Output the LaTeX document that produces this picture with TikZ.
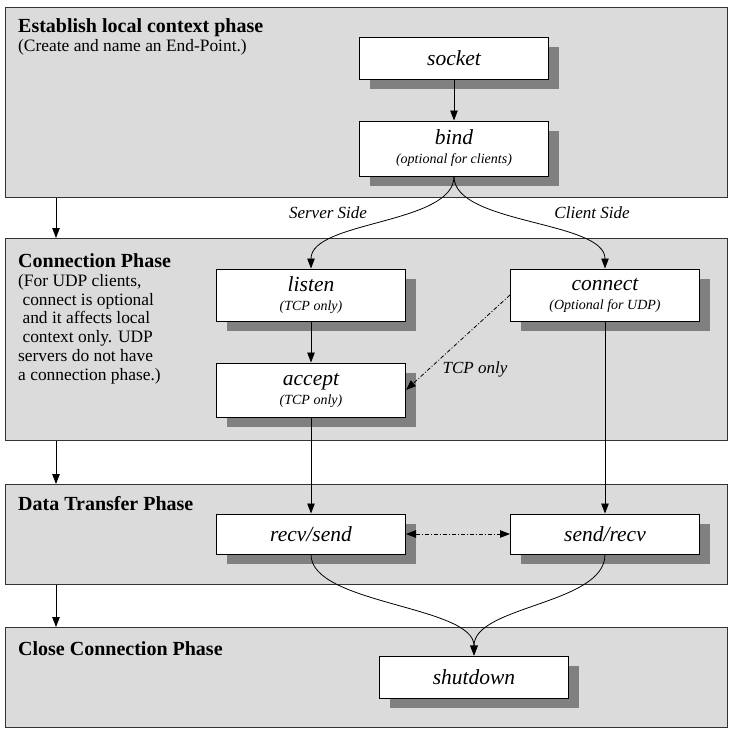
\documentclass[tikz,border=0pt]{standalone}
\usepackage{fontspec}
\setmainfont{Liberation Serif}
\usetikzlibrary{positioning, shadows, arrows.meta}
\newcommand{\boxfont}{\fontsize{21.5}{22}\selectfont\itshape}
\newcommand{\notefont}{\fontsize{14}{15}\selectfont\itshape}
\tikzset{
    phase/.style={
        draw = black!80, line width = 1.2pt, fill = black!14,
        minimum width = 722pt, anchor = north west, inner sep = 0pt
    },
    block/.style={
        draw, fill = white, line width = 1pt,
        minimum width = 189pt, minimum height = 42pt,
        inner sep = 0pt, align = center, font = \boxfont,
        drop shadow = {shadow xshift = 10pt, shadow yshift = -10pt,
                       fill = black!50, opacity = 1}
    },
    title/.style = {anchor = base west, inner sep = 0pt,
                    font = \fontsize{20}{22}\selectfont\bfseries},
    note/.style = {inner sep = 0pt, align = left,
                   font = \fontsize{17.4}{18.8}\selectfont},
    side/.style = {font = \fontsize{17}{19}\selectfont\itshape},
    line/.style = {->, line width = 0.8pt},
    dline/.style = {line, dash pattern = on 4pt off 2pt on 1pt off 2pt}
}

\begin{document}
\begin{tikzpicture}[x = 1pt, y = -1pt, >={Triangle[length=10pt, width=7.5pt]}]
    \useasboundingbox (0,0) rectangle (732,732);

    % phases
    \node[phase, minimum height = 190pt] (local) at (5,7) {};
    \node[phase, minimum height = 202pt] (conn) at (5,238) {};
    \node[phase, minimum height = 100pt] (data) at (5,484) {};
    \node[phase, minimum height = 100pt] (close) at (5,627) {};

    \node[title] (localtitle) at (18,32) {Establish local context phase};
    \node[note, anchor = base west] (localnote) at (18,51) {(Create and name an End-Point.)};
    \node[title] (conntitle) at (18,267) {Connection Phase};
    \node[note, anchor = north west] (connnote) at (18,274) {(For UDP clients,\\~connect is optional\\~and it affects local\\~context only. UDP\\servers do not have\\a connection phase.)};
    \node[title] (datatitle) at (18,510) {Data Transfer Phase};
    \node[title] (closetitle) at (18,655) {Close Connection Phase};

    % calls
    \node[block] (socket) at (454,58) {socket};
    \node[block, minimum height = 55pt, below = 41pt of socket] (bind) {bind\\[-3pt]{\notefont (optional for clients)}};
    \node[block, minimum height = 52pt] (listen) at (311,295) {listen\\[-3pt]{\notefont (TCP only)}};
    \node[block, minimum height = 54pt, below = 41pt of listen] (accept) {accept\\[-3pt]{\notefont (TCP only)}};
    \node[block, minimum height = 52pt, right = 104pt of listen] (connect) {connect\\[-3pt]{\notefont (Optional for UDP)}};
    \node[block, minimum height = 40pt] (recvsend) at (311,534) {recv/send};
    \node[block, minimum height = 40pt, right = 104pt of recvsend] (sendrecv) {send/recv};
    \node[block] (shutdown) at (474,677) {shutdown};

    \node[side] (serverlbl) at (328,213) {Server Side};
    \node[side] (clientlbl) at (592,213) {Client Side};
    \node[side] (tcplbl) at (475,369) {TCP only};

    \foreach \a/\b in {local/conn, conn/data, data/close}
        \draw[line] ([xshift=51pt]\a.south west) -- ([xshift=51pt]\b.north west);

    \draw[line] (socket) -- (bind);
    \draw[line] (bind.south) .. controls +(0,48) and +(0,-48) .. (listen.north);
    \draw[line] (bind.south) .. controls +(0,48) and +(0,-48) .. (connect.north);
    \draw[line] (listen) -- (accept);
    \draw[dline] (connect.west) -- (accept.east);
    \draw[line] (accept) -- (recvsend);
    \draw[line] (connect) -- (sendrecv);
    \draw[dline, <->] (recvsend) -- (sendrecv);
    \draw[line] (recvsend.south) .. controls +(0,50) and +(0,-50) .. (shutdown.north);
    \draw[line] (sendrecv.south) .. controls +(0,50) and +(0,-50) .. (shutdown.north);

\end{tikzpicture}
\end{document}
